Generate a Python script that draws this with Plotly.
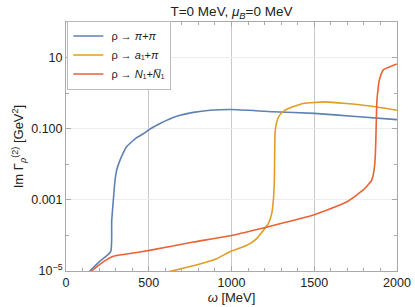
import plotly.graph_objects as go

# ---- data ----
blue_w = [135, 200, 270, 276, 286, 296, 306, 326, 346, 366, 397, 427, 467, 503, 568, 669, 769, 870, 1000, 1250, 1500, 1750, 2000]
blue_v = [9.0e-6, 1.8e-5, 3.5e-5, 2.5e-4, 9.8e-4, 3.5e-3, 6.8e-3, 0.0129, 0.021, 0.031, 0.043, 0.056, 0.072, 0.095, 0.141, 0.224, 0.288, 0.331, 0.347, 0.30, 0.27, 0.22, 0.18]

orange_w = [620, 769, 910, 991, 1051, 1112, 1152, 1192, 1222, 1243, 1253, 1259, 1263, 1269, 1283, 1310, 1343, 1434, 1565, 1695, 1877, 2000]
orange_v = [9.5e-6, 1.4e-5, 2.2e-5, 3.5e-5, 4.4e-5, 5.9e-5, 8.1e-5, 1.38e-4, 2.1e-4, 4.1e-4, 9.8e-4, 3.5e-3, 0.072, 0.126, 0.21, 0.30, 0.37, 0.51, 0.57, 0.51, 0.41, 0.33]

red_w = [150, 155, 225, 286, 366, 503, 769, 1000, 1210, 1500, 1695, 1796, 1846, 1856, 1866, 1871, 1876, 1879, 1887, 1893, 1917, 1957, 2000]
red_v = [9.0e-6, 1.0e-5, 1.8e-5, 2.6e-5, 3.0e-5, 3.8e-5, 6.5e-5, 1.0e-4, 1.7e-4, 3.8e-4, 8.7e-4, 1.9e-3, 3.5e-3, 4.9e-3, 0.0105, 0.031, 0.27, 0.63, 1.5, 2.3, 4.5, 5.5, 6.6]

series_names = ["ρ → <i>π</i>+<i>π</i>", "ρ → <i>a</i>₁+<i>π</i>", "ρ → <i>N</i>₁+<i>N̅</i>₁"]
series_colors = ["#5E81B5", "#E19C24", "#EB6235"]

x_tickvals = [0, 500, 1000, 1500, 2000]
x_ticktext = ["0", "500", "1000", "1500", "2000"]
y_tickvals = [1e-5, 1e-3, 1e-1, 10]
y_ticktext = ["10<sup>−5</sup>", "0.001", "0.100", "10"]
y_minor = [1e-4, 1e-2, 1, 100]

fig = go.Figure()
for w, v, name, col in zip([blue_w, orange_w, red_w], [blue_v, orange_v, red_v], series_names, series_colors):
    fig.add_trace(go.Scatter(x=w, y=v, mode="lines", name=" " + name,
                             line=dict(color=col, width=1.6, shape="spline", smoothing=0.5)))

axis_col = "#a9a9a9"
fig.update_layout(
    width=415, height=307,
    margin=dict(l=66, r=18, t=22, b=36, autoexpand=False),
    paper_bgcolor="white", plot_bgcolor="white",
    font=dict(family="Liberation Sans, Arial, sans-serif", size=12.5, color="#222"),
    title=dict(text="T=0 MeV, <i>μ</i><sub><i>B</i></sub>=0 MeV", xref="paper", x=0.5, xanchor="center",
               yref="container", y=0.962, yanchor="middle", font=dict(size=13.5, color="#222")),
    legend=dict(x=0.004, y=1.006, xanchor="left", yanchor="top", bgcolor="white",
                bordercolor="#bbbbbb", borderwidth=1, font=dict(size=11),
                tracegroupgap=0, itemwidth=30),
    showlegend=True,
)
fig.update_xaxes(
    range=[0, 2000], tickvals=x_tickvals, ticktext=x_ticktext, automargin=False,
    showline=True, linecolor=axis_col, linewidth=1, mirror="ticks",
    ticks="inside", ticklen=5, tickcolor=axis_col,
    showgrid=True, gridcolor="#c8c8c8", gridwidth=1, zeroline=False,
    minor=dict(dtick=100, ticks="inside", ticklen=3, tickcolor=axis_col, showgrid=False),
    title=dict(text="<i>ω</i> [MeV]", standoff=2, font=dict(size=13)),
)
fig.update_yaxes(
    type="log", range=[-5, 2], tickvals=y_tickvals, ticktext=y_ticktext, automargin=False,
    showline=True, linecolor=axis_col, linewidth=1, mirror="ticks",
    ticks="inside", ticklen=5, tickcolor=axis_col,
    showgrid=True, gridcolor="#ececec", gridwidth=1, zeroline=False,
    minor=dict(tickvals=y_minor, ticks="inside", ticklen=3, tickcolor=axis_col, showgrid=False),
    title=dict(text="Im Γ<sub><i>ρ</i></sub><sup>(2)</sup> [GeV<sup>2</sup>]", standoff=4, font=dict(size=13)),
)

fig.write_html("out.html", config={"displayModeBar": False},
               post_script="document.body.style.margin='0';")
